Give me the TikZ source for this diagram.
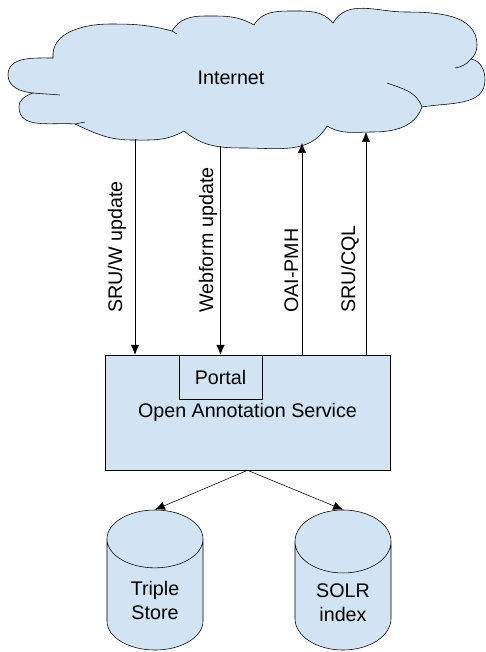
\documentclass[tikz,border=0pt]{standalone}
\usepackage{fontspec}
\setmainfont{Liberation Sans}
\usetikzlibrary{arrows.meta,shapes.geometric,positioning,calc}
\definecolor{boxblue}{RGB}{210,227,244}
\tikzset{
    line width=1pt,
    every node/.style={font=\fontsize{14}{17}\selectfont},
    arr/.style={-{Latex[length=7pt,width=6pt]}},
    box/.style={rectangle, draw, fill=boxblue, inner sep=0pt},
    db/.style={cylinder, shape border rotate=90, draw, fill=boxblue, aspect=1,
               minimum width=2.4cm, minimum height=3.5cm, align=center, anchor=shape center},
    el/.style={rotate=90, anchor=base west, inner sep=0pt},
}

\begin{document}
\begin{tikzpicture}[x=0.025cm, y=-0.025cm]
\useasboundingbox (0,0) rectangle (486,652);

    % cloud
    \draw[fill=boxblue] (53,58) to[out=95,in=180] (110,24) to[out=0,in=165] (172,31)
        to[out=60,in=180] (205,16) to[out=0,in=150] (254,25)
        to[out=60,in=180] (292,11) to[out=0,in=130] (333,23)
        to[out=60,in=180] (405,12) to[out=0,in=90] (477,45) to[out=-90,in=45] (471,59)
        to[out=-10,in=90] (485,80) to[out=-90,in=10] (422,107)
        to[out=-110,in=0] (372,132) to[out=180,in=-30] (327,126)
        to[out=-120,in=0] (245,148) to[out=180,in=-40] (184,131)
        to[out=-150,in=0] (132,140) to[out=180,in=-25] (75,124)
        to[out=175,in=-90] (19,107) to[out=90,in=200] (33,93)
        to[out=175,in=-90] (8,75) to[out=90,in=180] (53,58) -- cycle;
    \draw (33,93) to[out=-5,in=175] (60,95);
    \draw (422,107) to[out=110,in=-20] (387,83);
    \draw (471,59) to[out=-130,in=10] (455,68);
    \draw (172,31) to[out=-20,in=150] (177,34);
    \draw (75,124) to[out=5,in=185] (85,122);
    \node (net) at (231,78) {Internet};

    % service and stores
    \node[box, minimum width=7.125cm, minimum height=2.875cm] (oas) at (247.5,412.5) {Open Annotation Service};
    \node[box, minimum width=2.075cm, minimum height=1.1cm] (portal) at (220.5,377) {Portal};
    \node[db] (triple) at (155,580) {Triple\\Store};
    \node[db] (solr) at (343,580) {SOLR\\index};

    % ends on the cloud
    \coordinate (c1) at (135,139);
    \coordinate (c2) at (220.5,146);
    \coordinate (c3) at (302,143);
    \coordinate (c4) at (366,132);

    % labels
    \node[el] (l1) at (122,313) {SRU/W update};
    \node[el] (l2) at (213,313) {Webform update};
    \node[el] (l3) at (298,313) {OAI-PMH};
    \node[el] (l4) at (355,313) {SRU/CQL};

    % arrows
    \path[arr] (c1) edge (c1 |- oas.north);
    \path[arr] (c2) edge (portal.north);
    \path[arr] (c3 |- oas.north) edge (c3);
    \path[arr] (c4 |- oas.north) edge (c4);
    \path[arr] (oas.south) edge (triple.north);
    \path[arr] (oas.south) edge (solr.north);

\end{tikzpicture}
\end{document}
